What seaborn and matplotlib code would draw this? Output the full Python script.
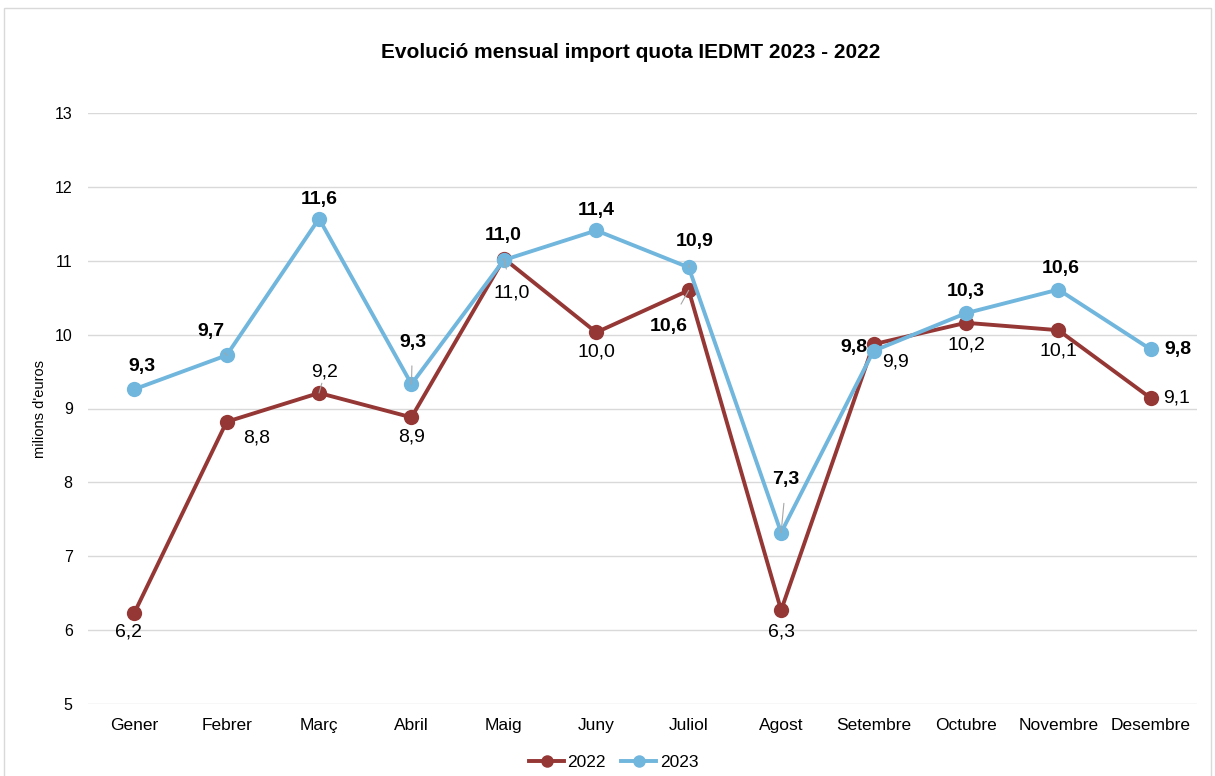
import matplotlib
matplotlib.use("Agg")
import matplotlib.pyplot as plt
import seaborn as sns
import pandas as pd
from matplotlib.patches import Rectangle

months = ["Gener", "Febrer", "Març", "Abril", "Maig", "Juny", "Juliol",
          "Agost", "Setembre", "Octubre", "Novembre", "Desembre"]
values_2022 = [6.23, 8.82, 9.21, 8.88, 11.03, 10.03, 10.60, 6.27, 9.87, 10.16, 10.06, 9.14]
values_2023 = [9.26, 9.72, 11.57, 9.33, 11.01, 11.41, 10.91, 7.32, 9.78, 10.29, 10.61, 9.80]
labels_2022 = ["6,2", "8,8", "9,2", "8,9", "11,0", "10,0", "10,6", "6,3", "9,9", "10,2", "10,1", "9,1"]
labels_2023 = ["9,3", "9,7", "11,6", "9,3", "11,0", "11,4", "10,9", "7,3", "9,8", "10,3", "10,6", "9,8"]
yticks = [5, 6, 7, 8, 9, 10, 11, 12, 13]

# label placement (pixel offsets from point), boldness, leader line
off_2022 = [(-6, -19), (30, -16), (6, 21), (0, -20), (8, -34), (0, -20),
            (-20, -36), (0, -22), (22, -18), (0, -22), (0, -21), (26, 0)]
bold_2022 = [False]*6 + [True] + [False]*5
lead_2022 = [False, False, True, False, True, False, True, False, False, False, False, False]
off_2023 = [(8, 23), (-16, 24), (0, 19), (1, 42), (-1, 25), (0, 20),
            (6, 26), (5, 53), (-20, 3), (0, 22), (2, 21), (27, 0)]
lead_2023 = [False, True, False, True, True, False, True, True, False, False, False, False]

df = pd.DataFrame({
    "month": months * 2,
    "x": list(range(12)) * 2,
    "value": values_2022 + values_2023,
    "year": ["2022"] * 12 + ["2023"] * 12,
})

red = "#953735"
blue = "#71B6DD"
plt.rcParams["font.family"] = ["Liberation Sans", "DejaVu Sans"]

fig = plt.figure(figsize=(12.15, 7.76), dpi=100)
ax = fig.add_axes([88/1215, 1-704/776, 1109/1215, 591/776])

sns.lineplot(data=df, x="x", y="value", hue="year", palette={"2022": red, "2023": blue},
             marker="o", markersize=11, markeredgewidth=0, linewidth=2.8, ax=ax,
             legend=True)

ax.set_xlim(-0.5, 11.5)
ax.set_ylim(5, 13)
ax.set_yticks(yticks)
ax.set_yticklabels([str(v) for v in yticks], fontsize=11.5)
ax.set_xticks(range(12))
ax.set_xticklabels(months, fontsize=12.5)
ax.tick_params(axis="y", length=0, pad=11)
ax.tick_params(axis="x", length=0, pad=10)
ax.grid(axis="y", color="#D9D9D9", linewidth=1)
ax.set_axisbelow(True)
for s in ax.spines.values():
    s.set_visible(False)
ax.set_xlabel("")
ax.set_ylabel("milions d'euros", fontsize=10.5, labelpad=6)

def annotate(vals, labels, offs, bolds, leads):
    for i, (v, lab, off, b, ld) in enumerate(zip(vals, labels, offs, bolds, leads)):
        ax.annotate(lab, xy=(i, v), xytext=(off[0], off[1]), textcoords="offset pixels",
                    ha="center", va="center", fontsize=14,
                    fontweight="bold" if b else "normal", color="black",
                    arrowprops=dict(arrowstyle="-", color="#A6A6A6", lw=0.8,
                                    shrinkA=9, shrinkB=0) if ld else None,
                    zorder=5)

annotate(values_2022, labels_2022, off_2022, bold_2022, lead_2022)
annotate(values_2023, labels_2023, off_2023, [True]*12, lead_2023)

leg = ax.legend(loc="upper center", bbox_to_anchor=(0.474, -0.06), ncol=2, frameon=False,
                fontsize=12.5, handlelength=2.0, columnspacing=0.9, handletextpad=0.2)
for h in leg.legend_handles:
    h.set_markersize(9)

fig.text(631/1215, 1-52/776, "Evolució mensual import quota IEDMT 2023 - 2022",
         ha="center", va="center", fontsize=15, fontweight="bold")

fig.patches.append(Rectangle((4/1215, -0.02), 1-8/1215, 1.02-8/776, transform=fig.transFigure,
                             fill=False, edgecolor="#D9D9D9", linewidth=1))

fig.savefig("out.png", dpi=100)
